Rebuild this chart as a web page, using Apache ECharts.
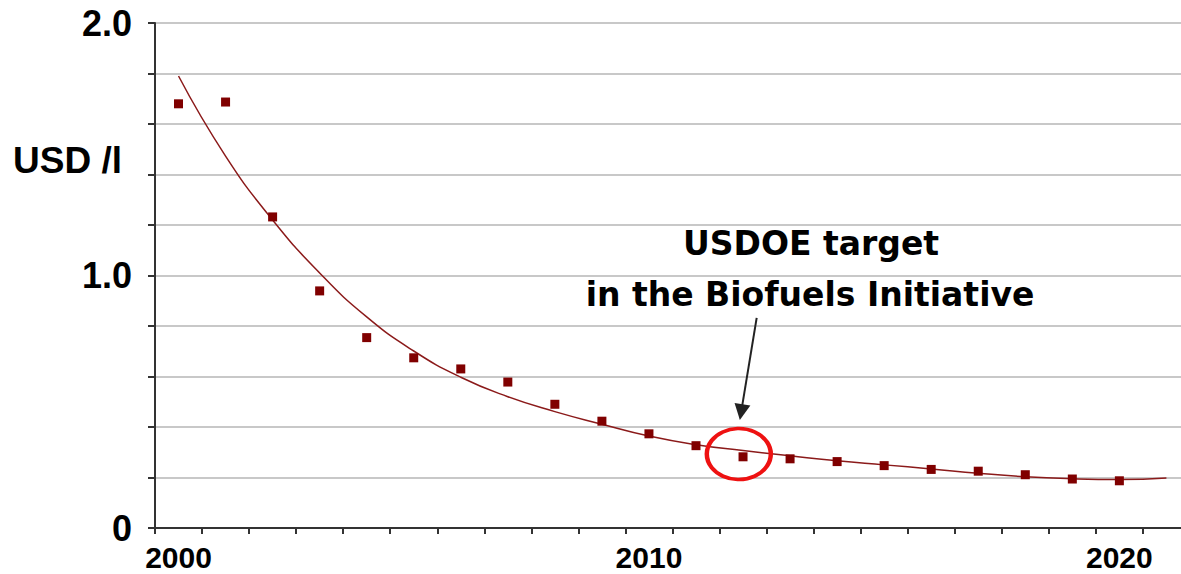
<!DOCTYPE html>
<html>
<head>
<meta charset="utf-8">
<title>USD /l</title>
<script src="https://cdn.jsdelivr.net/npm/echarts@6/dist/echarts.min.js"></script>
<style>
  html, body { margin: 0; padding: 0; background: #fff; }
  #main { width: 1181px; height: 574px; }
</style>
</head>
<body>
<div id="main"></div>
<script>
// measured cost per year (USD per litre)
const years = [2000, 2001, 2002, 2003, 2004, 2005, 2006, 2007, 2008, 2009, 2010,
  2011, 2012, 2013, 2014, 2015, 2016, 2017, 2018, 2019, 2020]
const costs = [1.680, 1.687, 1.232, 0.939, 0.754, 0.674, 0.630, 0.578, 0.490, 0.423, 0.373,
  0.326, 0.282, 0.274, 0.263, 0.247, 0.232, 0.225, 0.211, 0.194, 0.187]

// trend curve
const trendYears = [2000, 2001, 2002, 2003, 2004, 2005, 2006, 2007, 2008, 2009, 2010,
  2011, 2012, 2013, 2014, 2015, 2016, 2017, 2018, 2019, 2020, 2021]
const trendValues = [1.790, 1.473, 1.220, 1.010, 0.836, 0.701, 0.597, 0.520, 0.461, 0.411, 0.364,
  0.330, 0.307, 0.286, 0.266, 0.250, 0.234, 0.217, 0.203, 0.195, 0.192, 0.198]

// axis labels
const xLabelYears = [2000, 2010, 2020]
const yLabelValues = [0, 1, 2]
const yLabelTexts = ['0', '1.0', '2.0']

// target annotation
const targetYear = 2012
const targetCircle = [2011.91, 0.293]
const arrowFrom = [2012.29, 0.832]
const arrowTo = [2011.96, 0.459]

var xTicks = []
for (var t = 1999.5; t <= 2021; t++) xTicks.push(t)

var font = 'Arial, "Liberation Sans", sans-serif'
var chart = echarts.init(document.getElementById('main'), null, { renderer: 'svg' })

var option = {
  animation: false,
  backgroundColor: '#fff',
  grid: { left: 155, top: 23, right: 0, height: 505 },
  xAxis: {
    type: 'value',
    min: 1999.5,
    max: 2021.31,
    axisLine: { show: true, lineStyle: { color: '#333', width: 2 } },
    axisTick: { show: true, customValues: xTicks, length: 6, lineStyle: { color: '#333', width: 2 } },
    axisLabel: {
      customValues: xLabelYears,
      formatter: function(v) { return String(Math.round(v)) },
      fontFamily: font, fontWeight: 'bold', fontSize: 30, lineHeight: 30,
      color: '#000', margin: 14
    },
    splitLine: { show: false }
  },
  yAxis: {
    type: 'value',
    min: 0,
    max: 2,
    interval: 0.2,
    axisLine: { show: true, lineStyle: { color: '#333', width: 2 } },
    axisTick: { show: true, length: 7, lineStyle: { color: '#333', width: 2 } },
    axisLabel: {
      formatter: function(v) {
        var i = yLabelValues.findIndex(function(y) { return Math.abs(y - v) < 1e-6 })
        return i < 0 ? '' : yLabelTexts[i]
      },
      fontFamily: font, fontWeight: 'bold', fontSize: 36, color: '#000', margin: 23
    },
    splitLine: { show: true, lineStyle: { color: '#c8c8c8', width: 2 } }
  },
  graphic: [
    {
      type: 'text', x: 13, y: 160,
      style: { text: 'USD /l', font: 'bold 37px ' + font, fill: '#000', verticalAlign: 'middle' }
    },
    {
      type: 'text', x: 811, y: 243,
      style: {
        text: 'USDOE target', font: 'bold 33px "DejaVu Sans", sans-serif',
        fill: '#000', align: 'center', verticalAlign: 'middle'
      }
    },
    {
      type: 'text', x: 810, y: 294,
      style: {
        text: 'in the Biofuels Initiative', font: 'bold 33px "DejaVu Sans", sans-serif',
        fill: '#000', align: 'center', verticalAlign: 'middle'
      }
    }
  ],
  series: [
    {
      name: 'trend',
      type: 'line',
      data: trendYears.map(function(y, i) { return [y, trendValues[i]] }),
      smooth: true,
      symbol: 'none',
      lineStyle: { color: '#8b1a1a', width: 1.5 },
      silent: true,
      z: 2
    },
    {
      name: 'cost',
      type: 'scatter',
      data: years.map(function(y, i) { return [y, costs[i]] }),
      symbol: 'rect',
      symbolSize: 9,
      itemStyle: { color: '#800000', opacity: 1 },
      silent: true,
      z: 3,
      markPoint: {
        silent: true,
        symbol: 'circle',
        symbolSize: [64, 51],
        itemStyle: { color: 'transparent', borderColor: '#ee1111', borderWidth: 4 },
        label: { show: false },
        data: [{ name: String(targetYear), coord: targetCircle }]
      },
      markLine: {
        silent: true,
        symbol: ['none', 'triangle'],
        symbolSize: 16,
        label: { show: false },
        lineStyle: { color: '#222', width: 2, type: 'solid' },
        data: [[{ coord: arrowFrom }, { coord: arrowTo }]]
      }
    }
  ]
}

chart.setOption(option)
</script>
</body>
</html>
